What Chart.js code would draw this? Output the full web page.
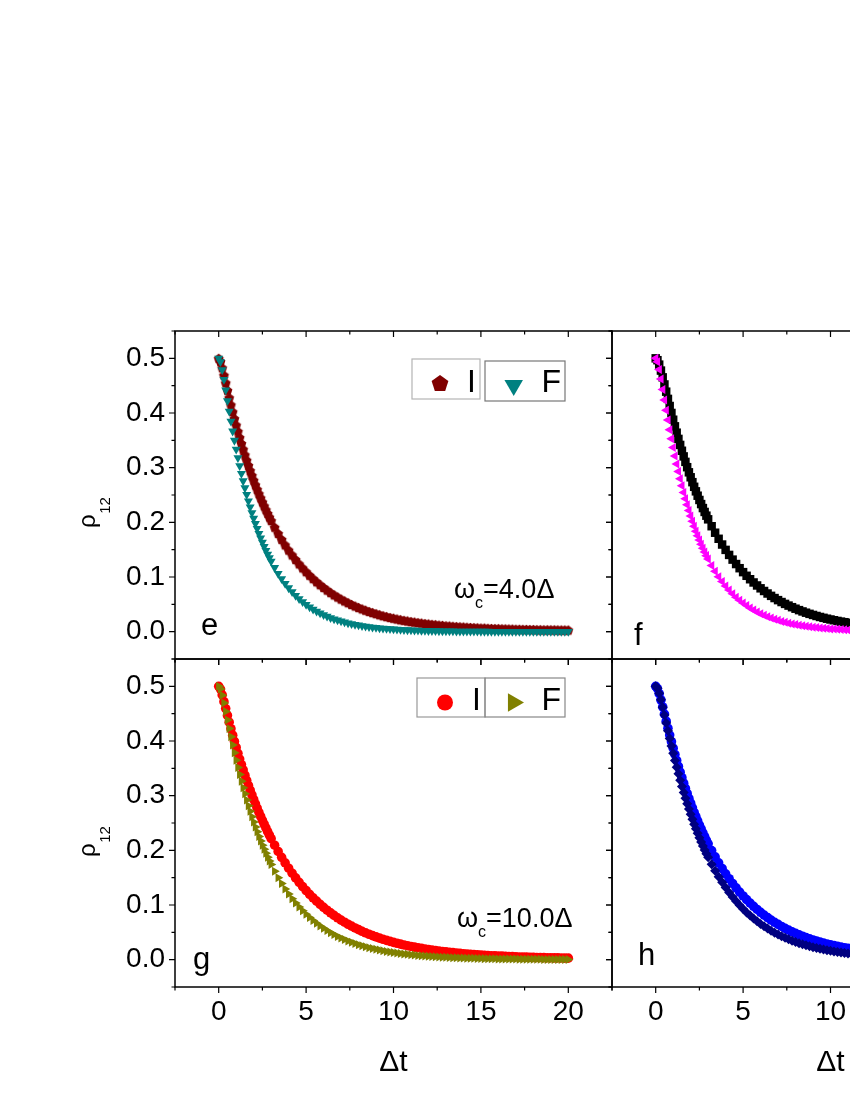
<!DOCTYPE html>
<html>
<head>
<meta charset="utf-8">
<script src="https://cdn.jsdelivr.net/npm/chart.js@4.4.0/dist/chart.umd.min.js"></script>
<style>
html,body{margin:0;padding:0;background:#fff;overflow:hidden;width:850px;height:1100px;}
#wrap{position:relative;width:850px;height:1100px;overflow:hidden;background:#fff;}
canvas{position:absolute;}
</style>
</head>
<body>
<div id="wrap">
<canvas id="cE" width="650" height="400" style="left:0px;top:300px"></canvas>
<canvas id="cF" width="540" height="400" style="left:560px;top:300px"></canvas>
<canvas id="cG" width="650" height="470" style="left:0px;top:630px"></canvas>
<canvas id="cH" width="540" height="470" style="left:560px;top:630px"></canvas>
</div>
<script>
// ---- data (Δt values and ρ12 series) ----
const tVals = [0,0.1,0.2,0.3,0.4,0.5,0.6,0.7,0.8,0.9,1.0,1.1,1.2,1.3,1.4,1.5,1.6,1.7,1.8,1.9,2.0,2.1,2.2,2.3,2.4,2.5,2.6,2.7,2.8,2.9,3.0,
3.2,3.4,3.6,3.8,4.0,4.2,4.4,4.6,4.8,5.0,5.2,5.4,5.6,5.8,6.0,6.2,6.4,6.6,6.8,7.0,7.2,7.4,7.6,7.8,8.0,
8.2,8.4,8.6,8.8,9.0,9.2,9.4,9.6,9.8,10.0,10.2,10.4,10.6,10.8,11.0,11.2,11.4,11.6,11.8,12.0,12.2,12.4,12.6,12.8,13.0,13.2,13.4,13.6,13.8,14.0,
14.2,14.4,14.6,14.8,15.0,15.2,15.4,15.6,15.8,16.0,16.2,16.4,16.6,16.8,17.0,17.2,17.4,17.6,17.8,18.0,18.2,18.4,18.6,18.8,19.0,19.2,19.4,19.6,19.8,20.0];

// panel e (ωc=4.0Δ)
const eI = [0.5000,0.4943,0.4826,0.4691,0.4552,0.4414,0.4279,0.4149,0.4022,0.3898,0.3779,0.3664,0.3551,0.3443,0.3337,0.3235,0.3136,0.3041,0.2948,0.2858,0.2770,0.2686,0.2604,0.2524,0.2447,0.2372,0.2300,0.2230,0.2162,0.2096,0.2032,
0.1910,0.1796,0.1688,0.1587,0.1492,0.1403,0.1319,0.1240,0.1166,0.1097,0.1032,0.0970,0.0913,0.0859,0.0808,0.0760,0.0715,0.0673,0.0634,0.0596,0.0562,0.0529,0.0498,0.0469,0.0442,
0.0416,0.0392,0.0370,0.0349,0.0329,0.0310,0.0292,0.0276,0.0260,0.0246,0.0232,0.0219,0.0207,0.0196,0.0185,0.0175,0.0166,0.0157,0.0149,0.0141,0.0134,0.0127,0.0120,0.0114,0.0108,0.0103,0.0098,0.0093,0.0089,0.0085,
0.0081,0.0077,0.0074,0.0070,0.0067,0.0065,0.0062,0.0059,0.0057,0.0055,0.0053,0.0051,0.0049,0.0047,0.0045,0.0044,0.0042,0.0041,0.0040,0.0039,0.0037,0.0036,0.0035,0.0035,0.0034,0.0033,0.0032,0.0031,0.0031,0.0030];
const eF = [0.5000,0.4936,0.4790,0.4611,0.4418,0.4222,0.4030,0.3846,0.3667,0.3498,0.3336,0.3181,0.3033,0.2892,0.2757,0.2629,0.2507,0.2390,0.2279,0.2173,0.2072,0.1976,0.1884,0.1796,0.1713,0.1633,0.1557,0.1485,0.1416,0.1350,0.1287,
0.1170,0.1064,0.0967,0.0879,0.0800,0.0727,0.0661,0.0601,0.0546,0.0497,0.0451,0.0410,0.0373,0.0339,0.0308,0.0280,0.0255,0.0232,0.0211,0.0192,0.0174,0.0158,0.0144,0.0131,0.0119,
0.0108,0.0098,0.0089,0.0081,0.0074,0.0067,0.0061,0.0056,0.0051,0.0046,0.0042,0.0038,0.0035,0.0031,0.0029,0.0026,0.0024,0.0021,0.0020,0.0018,0.0016,0.0015,0.0013,0.0012,0.0011,0.0010,0.0009,0.0008,0.0008,0.0007,
0.0006,0.0006,0.0005,0.0005,0.0004,0.0004,0.0004,0.0003,0.0003,0.0003,0.0002,0.0002,0.0002,0.0002,0.0002,0.0002,0.0001,0.0001,0.0001,0.0001,0.0001,0.0001,0.0001,0.0001,0.0001,0.0001,0.0000,0.0000,0.0000,0.0000];

// panel g (ωc=10.0Δ)
const gI = [0.5000,0.4949,0.4843,0.4720,0.4593,0.4467,0.4344,0.4224,0.4107,0.3993,0.3883,0.3775,0.3670,0.3569,0.3470,0.3374,0.3280,0.3189,0.3101,0.3015,0.2932,0.2851,0.2772,0.2695,0.2620,0.2548,0.2477,0.2409,0.2342,0.2277,0.2214,
0.2094,0.1980,0.1872,0.1770,0.1673,0.1582,0.1496,0.1415,0.1338,0.1265,0.1196,0.1131,0.1070,0.1012,0.0957,0.0905,0.0856,0.0810,0.0766,0.0724,0.0685,0.0648,0.0613,0.0580,0.0549,
0.0519,0.0492,0.0465,0.0440,0.0417,0.0394,0.0373,0.0353,0.0335,0.0317,0.0300,0.0284,0.0269,0.0255,0.0242,0.0229,0.0217,0.0206,0.0195,0.0185,0.0175,0.0166,0.0158,0.0149,0.0142,0.0135,0.0128,0.0121,0.0115,0.0109,
0.0104,0.0099,0.0094,0.0089,0.0085,0.0081,0.0077,0.0073,0.0070,0.0067,0.0064,0.0061,0.0058,0.0055,0.0053,0.0050,0.0048,0.0046,0.0044,0.0042,0.0040,0.0039,0.0037,0.0036,0.0034,0.0033,0.0032,0.0031,0.0029,0.0028];
const gF = [0.5000,0.4950,0.4836,0.4695,0.4541,0.4384,0.4228,0.4077,0.3929,0.3787,0.3650,0.3517,0.3389,0.3266,0.3147,0.3033,0.2922,0.2816,0.2714,0.2615,0.2520,0.2428,0.2340,0.2255,0.2173,0.2094,0.2018,0.1945,0.1874,0.1806,0.1740,
0.1616,0.1500,0.1393,0.1294,0.1201,0.1116,0.1036,0.0962,0.0893,0.0830,0.0770,0.0715,0.0664,0.0617,0.0573,0.0532,0.0494,0.0459,0.0426,0.0396,0.0367,0.0341,0.0317,0.0294,0.0273,
0.0254,0.0236,0.0219,0.0203,0.0189,0.0175,0.0163,0.0151,0.0140,0.0130,0.0121,0.0112,0.0104,0.0097,0.0090,0.0084,0.0078,0.0072,0.0067,0.0062,0.0058,0.0054,0.0050,0.0046,0.0043,0.0040,0.0037,0.0034,0.0032,0.0030,
0.0027,0.0026,0.0024,0.0022,0.0020,0.0019,0.0018,0.0016,0.0015,0.0014,0.0013,0.0012,0.0011,0.0011,0.0010,0.0009,0.0008,0.0008,0.0007,0.0007,0.0006,0.0006,0.0005,0.0005,0.0005,0.0004,0.0004,0.0004,0.0003,0.0003];

// panel f
const fI = [0.5000,0.4966,0.4885,0.4776,0.4652,0.4522,0.4390,0.4258,0.4128,0.4001,0.3877,0.3756,0.3640,0.3526,0.3416,0.3309,0.3206,0.3106,0.3009,0.2915,0.2824,0.2735,0.2650,0.2567,0.2487,0.2409,0.2334,0.2261,0.2190,0.2122,0.2055,
0.1929,0.1810,0.1699,0.1594,0.1496,0.1404,0.1318,0.1237,0.1161,0.1089,0.1022,0.0959,0.0900,0.0845,0.0793,0.0744,0.0698,0.0655,0.0615,0.0577,0.0542,0.0508,0.0477,0.0448,0.0420,
0.0394,0.0370,0.0347,0.0326,0.0306,0.0287,0.0269,0.0253,0.0237,0.0223,0.0209,0.0196,0.0184,0.0173,0.0162,0.0152,0.0143,0.0134,0.0126,0.0118,0.0111,0.0104,0.0098,0.0092,0.0086,0.0081,0.0076,0.0071,0.0067,0.0063,
0.0059,0.0055,0.0052,0.0049,0.0046,0.0043,0.0040,0.0038,0.0035,0.0033,0.0031,0.0029,0.0027,0.0026,0.0024,0.0023,0.0021,0.0020,0.0019,0.0018,0.0017,0.0015,0.0015,0.0014,0.0013,0.0012,0.0011,0.0011,0.0010,0.0009];
const fF = [0.5000,0.4938,0.4795,0.4620,0.4431,0.4239,0.4050,0.3870,0.3694,0.3528,0.3367,0.3214,0.3068,0.2929,0.2796,0.2669,0.2547,0.2431,0.2321,0.2215,0.2115,0.2019,0.1927,0.1839,0.1756,0.1676,0.1600,0.1527,0.1458,0.1391,0.1328,
0.1210,0.1103,0.1005,0.0916,0.0834,0.0760,0.0693,0.0631,0.0575,0.0524,0.0477,0.0435,0.0396,0.0361,0.0329,0.0300,0.0273,0.0249,0.0227,0.0207,0.0188,0.0172,0.0156,0.0142,0.0130,
0.0118,0.0108,0.0098,0.0089,0.0082,0.0074,0.0068,0.0062,0.0056,0.0051,0.0047,0.0042,0.0039,0.0035,0.0032,0.0029,0.0027,0.0024,0.0022,0.0020,0.0018,0.0017,0.0015,0.0014,0.0013,0.0012,0.0011,0.0010,0.0009,0.0008,
0.0007,0.0007,0.0006,0.0005,0.0005,0.0004,0.0004,0.0004,0.0003,0.0003,0.0003,0.0002,0.0002,0.0002,0.0002,0.0002,0.0001,0.0001,0.0001,0.0001,0.0001,0.0001,0.0001,0.0001,0.0001,0.0001,0.0001,0.0001,0.0001,0.0000];

// panel h
const hI = [0.5000,0.4959,0.4866,0.4750,0.4623,0.4492,0.4361,0.4234,0.4108,0.3988,0.3869,0.3754,0.3643,0.3535,0.3430,0.3328,0.3229,0.3133,0.3040,0.2950,0.2863,0.2778,0.2696,0.2616,0.2538,0.2463,0.2390,0.2319,0.2251,0.2184,0.2120,
0.1996,0.1880,0.1771,0.1668,0.1571,0.1480,0.1394,0.1313,0.1237,0.1165,0.1098,0.1035,0.0975,0.0919,0.0866,0.0816,0.0769,0.0725,0.0684,0.0645,0.0608,0.0573,0.0541,0.0510,0.0481,
0.0454,0.0429,0.0405,0.0382,0.0361,0.0341,0.0322,0.0304,0.0287,0.0272,0.0257,0.0243,0.0230,0.0218,0.0206,0.0195,0.0185,0.0175,0.0166,0.0157,0.0149,0.0142,0.0134,0.0128,0.0121,0.0115,0.0110,0.0105,0.0100,0.0095,
0.0090,0.0086,0.0082,0.0079,0.0075,0.0072,0.0069,0.0066,0.0063,0.0061,0.0058,0.0056,0.0054,0.0052,0.0050,0.0048,0.0047,0.0045,0.0044,0.0042,0.0041,0.0040,0.0039,0.0037,0.0036,0.0035,0.0035,0.0034,0.0033,0.0032];
const hF = [0.5000,0.4963,0.4873,0.4753,0.4617,0.4475,0.4330,0.4187,0.4046,0.3908,0.3775,0.3645,0.3520,0.3399,0.3282,0.3169,0.3059,0.2954,0.2852,0.2754,0.2659,0.2567,0.2479,0.2393,0.2311,0.2231,0.2154,0.2080,0.2008,0.1939,0.1872,
0.1745,0.1627,0.1517,0.1414,0.1318,0.1229,0.1145,0.1068,0.0995,0.0928,0.0865,0.0806,0.0752,0.0701,0.0653,0.0609,0.0568,0.0529,0.0493,0.0460,0.0429,0.0400,0.0373,0.0347,0.0324,
0.0302,0.0281,0.0262,0.0245,0.0228,0.0213,0.0198,0.0185,0.0172,0.0161,0.0150,0.0140,0.0130,0.0121,0.0113,0.0105,0.0098,0.0092,0.0085,0.0080,0.0074,0.0069,0.0064,0.0060,0.0056,0.0052,0.0049,0.0045,0.0042,0.0039,
0.0037,0.0034,0.0032,0.0030,0.0028,0.0026,0.0024,0.0022,0.0021,0.0020,0.0018,0.0017,0.0016,0.0015,0.0014,0.0013,0.0012,0.0011,0.0010,0.0010,0.0009,0.0008,0.0008,0.0007,0.0007,0.0006,0.0006,0.0006,0.0005,0.0005];

// ticks
const xMajor = [0, 5, 10, 15, 20];
const xMinor = [-2.5, 2.5, 7.5, 12.5, 17.5, 22.5];
const yMajor = [0, 0.1, 0.2, 0.3, 0.4, 0.5];
const yMinor = [-0.05, 0.05, 0.15, 0.25, 0.35, 0.45, 0.55];

// ---- rendering ----
const FONT = '"Liberation Sans", Arial, Helvetica, sans-serif';

function pentPath(g, cx, cy, r) {
  g.beginPath();
  for (let k = 0; k < 5; k++) {
    const a = -Math.PI / 2 + k * 2 * Math.PI / 5;
    const px = cx + r * Math.cos(a), py = cy + r * Math.sin(a);
    if (k) g.lineTo(px, py); else g.moveTo(px, py);
  }
  g.closePath();
}
function pentagonImage(r, color) {
  const s = Math.ceil(2 * r) + 2;
  const c = document.createElement('canvas');
  c.width = s; c.height = s;
  const g = c.getContext('2d');
  g.fillStyle = color;
  pentPath(g, s / 2, s / 2 + r * 0.095, r);
  g.fill();
  return c;
}
function triPath(g, cx, cy, r, dir) {
  g.beginPath();
  const c30 = Math.cos(Math.PI / 6);
  if (dir === 'down') {
    g.moveTo(cx, cy + r); g.lineTo(cx - r * c30, cy - r / 2); g.lineTo(cx + r * c30, cy - r / 2);
  } else {
    g.moveTo(cx + r, cy); g.lineTo(cx - r / 2, cy - r * c30); g.lineTo(cx - r / 2, cy + r * c30);
  }
  g.closePath();
}

function series(label, vals, color, style, radius, rotation) {
  return {
    label,
    data: tVals.map((t, i) => ({x: t, y: vals[i]})),
    pointStyle: style,
    pointRadius: radius,
    pointRotation: rotation || 0,
    backgroundColor: color,
    borderColor: color,
    pointBorderWidth: 0,
    showLine: false
  };
}

const framePlugin = {
  id: 'frame',
  afterDatasetsDraw(chart) {
    const {ctx, chartArea: a, scales: {x, y}} = chart;
    const MAJ = 6, MIN = 3.5;
    ctx.save();
    ctx.strokeStyle = '#000';
    ctx.lineWidth = 1.2;
    ctx.beginPath();
    const xt = (v, len) => {
      const p = x.getPixelForValue(v);
      ctx.moveTo(p, a.bottom); ctx.lineTo(p, a.bottom + len);   // bottom: outward
      ctx.moveTo(p, a.top); ctx.lineTo(p, a.top + len);         // top: inward
    };
    const yt = (v, len) => {
      const p = y.getPixelForValue(v);
      ctx.moveTo(a.left, p); ctx.lineTo(a.left - len, p);       // left: outward
      ctx.moveTo(a.right, p); ctx.lineTo(a.right - len, p);     // right: inward
    };
    xMajor.forEach(v => xt(v, MAJ));
    xMinor.forEach(v => xt(v, MIN));
    yMajor.forEach(v => yt(v, MAJ));
    yMinor.forEach(v => yt(v, MIN));
    ctx.stroke();
    ctx.lineWidth = 1.5;
    ctx.strokeRect(a.left, a.top, a.right - a.left, a.bottom - a.top);
    ctx.restore();
  }
};

const decoPlugin = {
  id: 'deco',
  afterDraw(chart, args, o) {
    const ctx = chart.ctx;
    const ox = o.ox, oy = o.oy;
    ctx.save();
    ctx.fillStyle = '#000';
    ctx.textAlign = 'left';
    ctx.textBaseline = 'alphabetic';
    if (o.letter) {
      ctx.font = '31px ' + FONT;
      ctx.fillText(o.letter.text, o.letter.x - ox, o.letter.y - oy);
    }
    if (o.rho) {
      ctx.save();
      ctx.translate(o.rho.x - ox, o.rho.y - oy);
      ctx.rotate(-Math.PI / 2);
      ctx.font = '24px ' + FONT;
      ctx.fillText('ρ', 0, 0);
      const w = ctx.measureText('ρ').width;
      ctx.font = '15px ' + FONT;
      ctx.fillText('12', w + 0.5, 15);
      ctx.restore();
    }
    if (o.note) {
      let x0 = o.note.x - ox;
      const yb = o.note.y - oy;
      ctx.font = '27px ' + FONT;
      ctx.fillText('ω', x0, yb);
      x0 += ctx.measureText('ω').width;
      ctx.font = '16px ' + FONT;
      ctx.fillText('c', x0, yb + 10);
      x0 += ctx.measureText('c').width;
      ctx.font = '27px ' + FONT;
      ctx.fillText(o.note.text, x0, yb);
    }
    if (o.legend) {
      o.legend.forEach(it => {
        ctx.strokeStyle = it.border;
        ctx.lineWidth = 1.2;
        ctx.strokeRect(it.box[0] - ox, it.box[1] - oy, it.box[2], it.box[3]);
        ctx.fillStyle = it.color;
        const cx = it.mx - ox, cy = it.my - oy;
        if (it.shape === 'pent') pentPath(ctx, cx, cy, it.r);
        else if (it.shape === 'circle') { ctx.beginPath(); ctx.arc(cx, cy, it.r, 0, Math.PI * 2); }
        else triPath(ctx, cx, cy, it.r, it.shape);
        ctx.fill();
        ctx.fillStyle = '#000';
        ctx.font = '32px ' + FONT;
        ctx.fillText(it.text, it.tx - ox, it.ty - oy);
      });
    }
    ctx.restore();
  }
};

function panel(id, datasets, cfg) {
  return new Chart(document.getElementById(id), {
    type: 'scatter',
    data: {datasets},
    options: {
      responsive: false,
      animation: false,
      events: [],
      layout: {padding: {left: 0, top: cfg.padTop, right: cfg.padRight, bottom: 0}},
      plugins: {legend: {display: false}, tooltip: {enabled: false}, deco: cfg.deco},
      scales: {
        x: {
          type: 'linear', position: 'bottom', min: -2.5, max: 22.5,
          afterBuildTicks: s => { s.ticks = xMajor.map(v => ({value: v})); },
          afterFit: s => { s.height = cfg.xH; },
          grid: {display: false, drawTicks: false, tickLength: 0}, border: {display: false},
          ticks: {display: cfg.xLabels, autoSkip: false, maxRotation: 0, minRotation: 0, padding: 8,
                  color: '#000', font: {family: FONT, size: 28}, callback: v => String(v)},
          title: {display: cfg.xLabels, text: 'Δt', color: '#000', font: {family: FONT, size: 30},
                  padding: {top: 0, bottom: 19}}
        },
        y: {
          type: 'linear', position: 'left', min: -0.05, max: 0.55,
          afterBuildTicks: s => { s.ticks = yMajor.map(v => ({value: v})); },
          afterFit: s => { s.width = cfg.yW; },
          grid: {display: false, drawTicks: false, tickLength: 0}, border: {display: false},
          ticks: {display: cfg.yLabels, autoSkip: false, padding: 10,
                  color: '#000', font: {family: FONT, size: 28}, callback: v => v.toFixed(1)}
        }
      }
    },
    plugins: [framePlugin, decoPlugin]
  });
}

// panel e
panel('cE', [
  series('F', eF, '#008080', 'triangle', 5.2, 180),
  series('I', eI, '#800000', pentagonImage(5.2, '#800000'), 5.2, 0)
], {padTop: 31, padRight: 38, xH: 41, yW: 175, xLabels: false, yLabels: true,
    deco: {ox: 0, oy: 300,
      letter: {text: 'e', x: 201, y: 635},
      rho: {x: 95, y: 528},
      note: {x: 454, y: 598, text: '=4.0Δ'},
      legend: [
        {box: [412, 359, 68, 40], border: '#b4b4b4', shape: 'pent', color: '#800000', mx: 440, my: 383.8, r: 8.8, text: 'I', tx: 467, ty: 392},
        {box: [485, 361, 80, 40], border: '#777777', shape: 'down', color: '#008080', mx: 513.7, my: 385.3, r: 10.7, text: 'F', tx: 541.5, ty: 392}
      ]}});

// panel f
panel('cF', [
  series('F', fF, '#ff00ff', 'triangle', 5.2, 270),
  series('I', fI, '#000000', 'rect', 6, 0)
], {padTop: 31, padRight: 51, xH: 41, yW: 52, xLabels: false, yLabels: false,
    deco: {ox: 560, oy: 300, letter: {text: 'f', x: 634, y: 645}}});

// panel g
panel('cG', [
  series('F', gF, '#808000', 'triangle', 5.2, 90),
  series('I', gI, '#ff0000', 'circle', 4.8, 0)
], {padTop: 29, padRight: 38, xH: 113, yW: 175, xLabels: true, yLabels: true,
    deco: {ox: 0, oy: 630,
      letter: {text: 'g', x: 193, y: 969},
      rho: {x: 95, y: 857},
      note: {x: 457, y: 927, text: '=10.0Δ'},
      legend: [
        {box: [417, 678, 68, 39], border: '#999999', shape: 'circle', color: '#ff0000', mx: 445, my: 702.5, r: 8, text: 'I', tx: 472, ty: 710},
        {box: [485, 678, 80, 39], border: '#888888', shape: 'right', color: '#808000', mx: 513.3, my: 702.5, r: 10.7, text: 'F', tx: 541.5, ty: 710}
      ]}});

// panel h
panel('cH', [
  series('F', hF, '#000080', 'rectRot', 5, 0),
  series('I', hI, '#0000ff', 'circle', 4.8, 0)
], {padTop: 29, padRight: 51, xH: 113, yW: 52, xLabels: true, yLabels: false,
    deco: {ox: 560, oy: 630, letter: {text: 'h', x: 638, y: 965}}});
</script>
</body>
</html>
